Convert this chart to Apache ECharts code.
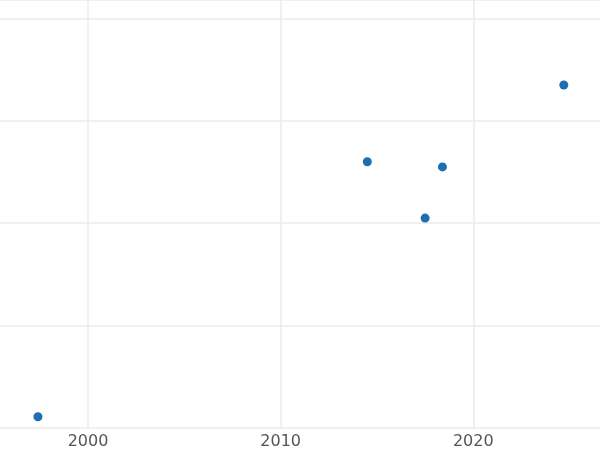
<!DOCTYPE html>
<html>
<head>
<meta charset="utf-8">
<script src="https://cdn.jsdelivr.net/npm/echarts@6/dist/echarts.min.js"></script>
<style>html,body{margin:0;padding:0;background:#fff}#chart{width:600px;height:450px}</style>
</head>
<body>
<div id="chart"></div>
<script>
// data
var years = [1997.4, 2014.5, 2017.5, 2018.4, 2024.7];
var values = [0.11, 2.60, 2.05, 2.55, 3.35];
var xTicks = [2000, 2010, 2020];

var points = [];
for (var i = 0; i < years.length; i++) {
    points.push([years[i], values[i]]);
}

var myChart = echarts.init(document.getElementById('chart'));
var option = {
    animation: false,
    grid: { left: 0, right: 0, top: 0, bottom: 22, containLabel: false },
    xAxis: {
        type: 'value',
        min: 1995.43, max: 2026.58,
        axisLine: { show: false },
        axisTick: { show: false, customValues: xTicks },
        axisLabel: {
            customValues: xTicks,
            color: '#555', fontSize: 16, fontFamily: 'DejaVu Sans', margin: 6,
            formatter: function (v) { return String(v); }
        },
        splitLine: { lineStyle: { color: '#ebebeb', width: 1.5 } }
    },
    yAxis: {
        type: 'value',
        min: 0, max: 4.18, interval: 1,
        axisLine: { show: false },
        axisTick: { show: false },
        axisLabel: { show: false },
        splitLine: { lineStyle: { color: '#ebebeb', width: 1.5 } }
    },
    series: [{
        type: 'scatter',
        data: points,
        symbolSize: 9,
        itemStyle: { color: '#1f6fb0', opacity: 1 }
    }]
};
myChart.setOption(option);
</script>
</body>
</html>
